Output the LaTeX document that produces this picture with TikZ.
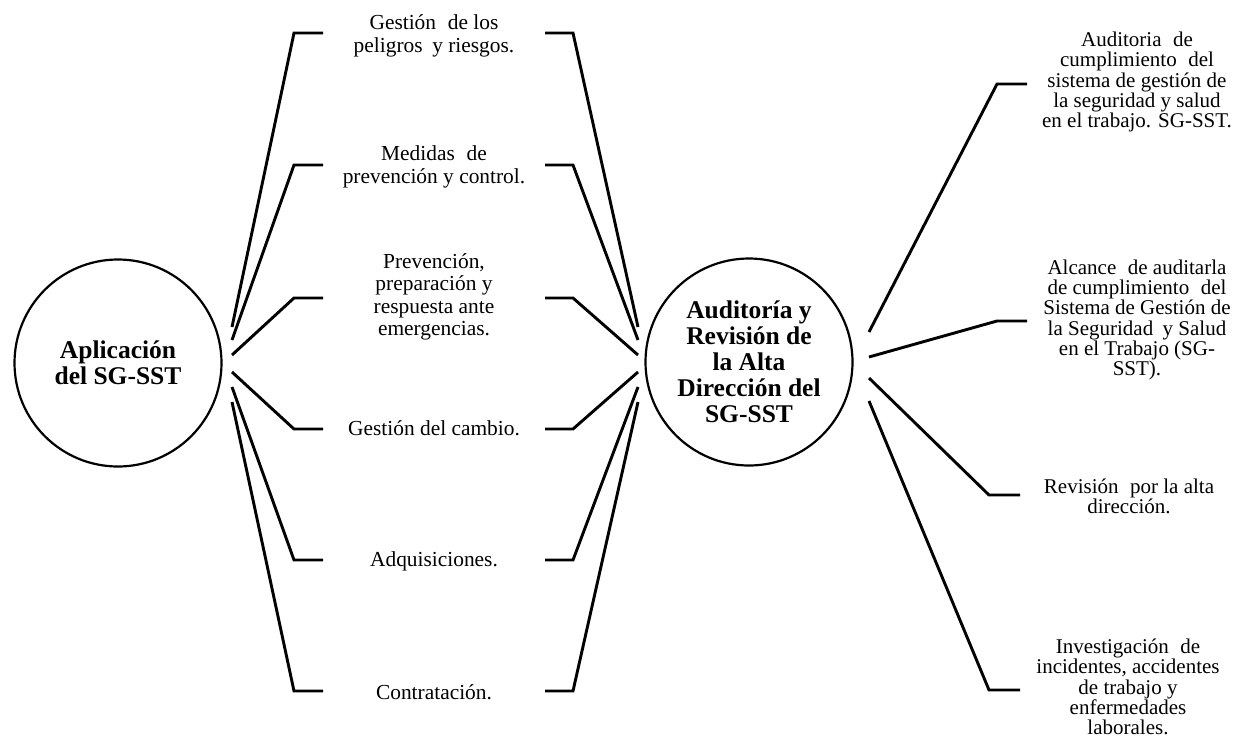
\documentclass[tikz,border=0pt]{standalone}
\usepackage{fontspec}
\setmainfont{Liberation Serif}
\begin{document}
\begin{tikzpicture}[x=1pt,y=-1pt,
  conn/.style={line width=2.9pt, line join=miter},
  hub/.style={circle, draw, line width=2.2pt, minimum size=207pt, inner sep=0pt, align=center,
     font=\fontsize{25.5}{26}\selectfont\bfseries},
  lbl/.style={align=center, inner sep=0pt, font=\fontsize{21.4}{22.5}\selectfont},
  rlbl/.style={align=center, inner sep=0pt, font=\fontsize{21}{20.2}\selectfont}]
\useasboundingbox (0,0) rectangle (1238,742);
% hubs
\node[hub] (L) at (118,363) {Aplicación\\del SG-SST};
\node[hub] (R) at (749,362) {Auditoría y\\Revisión de\\la Alta\\Dirección del\\SG-SST};
% middle labels
\node[lbl] (t1) at (434,36) {Gestión\hspace{0.3em} de los\\peligros\hspace{0.2em} y riesgos.};
\node[lbl] (t2) at (434,167) {Medidas\hspace{0.3em} de\\prevención y control.};
\node[lbl] (t3) at (434,297) {Prevención,\\preparación y\\respuesta ante\\emergencias.};
\node[lbl] (t4) at (434,428) {Gestión del cambio.};
\node[lbl] (t5) at (434,561) {Adquisiciones.};
\node[lbl] (t6) at (434,692) {Contratación.};
% right labels
\node[rlbl] (r1) at (1137,82) {Auditoria\hspace{0.3em} de\\cumplimiento\hspace{0.3em} del\\sistema de gestión de\\la seguridad y salud\\en el trabajo. SG-SST.};
\node[rlbl] (r2) at (1137,320) {Alcance\hspace{0.3em} de auditarla\\de cumplimiento\hspace{0.3em} del\\Sistema de Gestión de\\la Seguridad\hspace{0.2em} y Salud\\en el Trabajo (SG-\\SST).};
\node[rlbl] (r3) at (1129,496) {Revisión\hspace{0.3em} por la alta\\dirección.};
\node[rlbl] (r4) at (1128,687) {Investigación\hspace{0.3em} de\\incidentes, accidentes\\de trabajo y\\enfermedades\\laborales.};
% left/middle connectors
\foreach \i/\y/\e in {1/33/327, 2/165/340, 3/298/355, 4/429/372, 5/560/387, 6/691/402}{
  \coordinate (la\i) at (232,\e);
  \coordinate (lb\i) at (323,\y);
  \coordinate (ra\i) at (545,\y);
  \coordinate (rb\i) at (638,\e);
  \draw[conn] (la\i) -- (294,\y) -- (lb\i);
  \draw[conn] (ra\i) -- (573,\y) -- (rb\i);
}
% right connectors
\foreach \i/\sy/\bx/\by/\ex in {1/332/997/84/1027, 2/357/997/321/1027, 3/378/989/495/1020, 4/401/989/690/1020}{
  \coordinate (sa\i) at (869,\sy);
  \coordinate (sb\i) at (\ex,\by);
  \draw[conn] (sa\i) -- (\bx,\by) -- (sb\i);
}
\end{tikzpicture}
\end{document}
